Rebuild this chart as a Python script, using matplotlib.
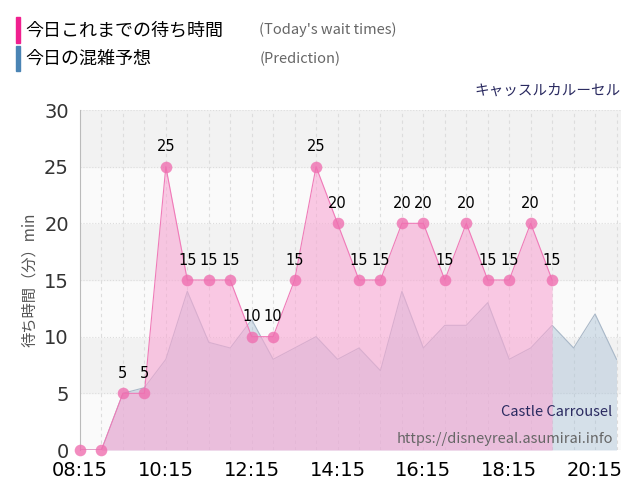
import numpy as np
import matplotlib.pyplot as plt
from matplotlib.patches import Rectangle

plt.rcParams['font.family'] = ['Noto Sans CJK JP', 'DejaVu Sans']

# times in hours, every 30 min
wait_times = np.arange(8.25, 19.26, 0.5)
wait_vals = [0, 0, 5, 5, 25, 15, 15, 15, 10, 10, 15, 25, 20, 15, 15, 20, 20, 15, 20, 15, 15, 20, 15]
pred_times = np.arange(8.25, 20.76, 0.5)
pred_vals = [0, 0, 5, 5.5, 8, 14, 9.5, 9, 11.5, 8, 9, 10, 8, 9, 7, 14, 9, 11, 11, 13, 8, 9, 11, 9, 12, 8]
tick_labels = ["08:15", "10:15", "12:15", "14:15", "16:15", "18:15", "20:15"]

fig = plt.figure(figsize=(6.4, 5.0), dpi=100)
ax = fig.add_axes([0.125, 0.1, 0.845, 0.68])
xmin, xmax = 8.25, 20.85
ax.set_xlim(xmin, xmax)
ax.set_ylim(0, 30)

for i in range(6):
    c = '#f2f2f2' if i % 2 == 1 else '#fafafa'
    ax.add_patch(Rectangle((xmin, i * 5), xmax - xmin, 5, color=c, zorder=0))

for t in np.arange(8.75, 20.8, 0.5):
    ax.axvline(t, color='#dddddd', lw=0.8, ls=(0, (3, 3)), zorder=1)
for y in range(0, 31, 5):
    ax.axhline(y, color='#dddddd', lw=0.8, ls=':', zorder=1)

ax.fill_between(pred_times, pred_vals, color='#a9c1d6', alpha=0.45, lw=0, zorder=2)
ax.plot(pred_times, pred_vals, color='#a9b8c8', lw=0.8, zorder=2)
ax.fill_between(wait_times, wait_vals, color='#f9a8d4', alpha=0.6, lw=0, zorder=3)
ax.plot(wait_times, wait_vals, color='#f07ab8', lw=0.8, zorder=4)
ax.scatter(wait_times, wait_vals, s=70, color='#ef6fb0', alpha=0.8, lw=0, zorder=5, clip_on=False)
for t, v in zip(wait_times, wait_vals):
    if v > 0:
        ax.text(t, v + 1.1, str(v), ha='center', va='bottom', fontsize=10.5, zorder=6,
                family='DejaVu Sans')

ax.set_xticks(np.arange(8.25, 20.3, 2))
ax.set_xticklabels(tick_labels, fontsize=14, family='DejaVu Sans')
ax.set_yticks(range(0, 31, 5))
ax.set_yticklabels([str(v) for v in range(0, 31, 5)], family='DejaVu Sans')
ax.tick_params(axis='y', labelsize=14, length=0, colors='#333333', pad=8)
ax.tick_params(axis='x', length=0, pad=8)
ax.set_ylabel('待ち時間（分）min', fontsize=11, color='#555555')
for s in ['top', 'right', 'bottom']:
    ax.spines[s].set_visible(False)
ax.spines['left'].set_color('#bbbbbb')

ax.text(0.985, 0.1, 'Castle Carrousel', transform=ax.transAxes, ha='right', fontsize=10.5, color='#2a2a60', zorder=7)
ax.text(0.985, 0.02, 'https://disneyreal.asumirai.info', transform=ax.transAxes, ha='right', fontsize=10.5, color='#666666', zorder=7)
fig.text(0.97, 0.81, 'キャッスルカルーセル', ha='right', fontsize=10.5, color='#2a2a60')

fig.add_artist(Rectangle((0.025, 0.915), 0.007, 0.05, color='#f0208f', transform=fig.transFigure))
fig.add_artist(Rectangle((0.025, 0.858), 0.007, 0.05, color='#4a84b4', transform=fig.transFigure))
fig.text(0.04, 0.94, '今日これまでの待ち時間', fontsize=13, va='center')
fig.text(0.04, 0.882, '今日の混雑予想', fontsize=13, va='center')
fig.text(0.405, 0.94, "(Today's wait times)", fontsize=10.5, va='center', color='#666666')
fig.text(0.405, 0.882, "(Prediction)", fontsize=10.5, va='center', color='#666666')

fig.savefig('out.png', dpi=100)
